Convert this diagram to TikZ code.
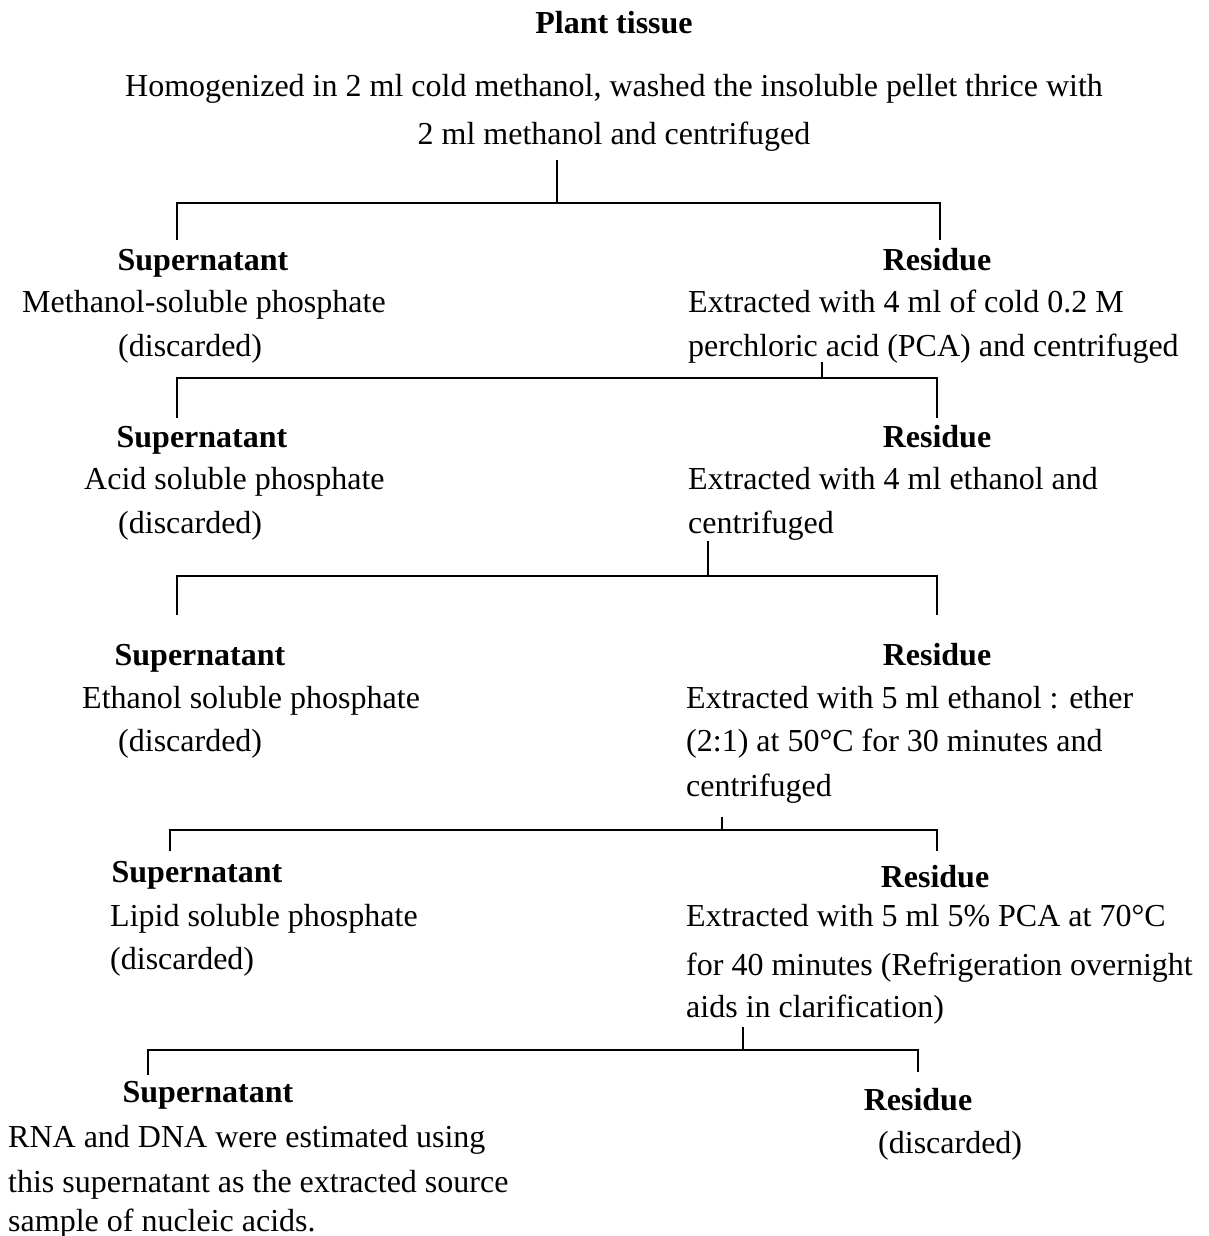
\documentclass[tikz,border=0pt]{standalone}
\usepackage{fontspec}
\setmainfont{Liberation Serif}
\begin{document}
\begin{tikzpicture}[x=1pt,y=-1pt,
	txt/.style={anchor=base west,inner sep=0pt,font=\fontsize{32}{44}\selectfont},
	mid/.style={anchor=base,inner sep=0pt,font=\fontsize{32}{44}\selectfont},
	head/.style={anchor=base,inner sep=0pt,font=\fontsize{32}{44}\selectfont\bfseries},
	tree/.style={line width=1.5pt}]
	\useasboundingbox (0,0) rectangle (1208,1236);
	% start
	\node[head] (tissue) at (614,34) {Plant tissue};
	\node[mid] (hom1) at (614,97) {Homogenized in 2 ml cold methanol, washed the insoluble pellet thrice with};
	\node[mid] (hom2) at (614,145) {2 ml methanol and centrifuged};
	% step 1
	\coordinate (t1) at (557,160);
	\coordinate (j1) at (557,203);
	\coordinate (l1) at (177,240);
	\coordinate (r1) at (940,240);
	\draw[tree] (t1) -- (j1);
	\draw[tree] (l1) |- (j1) -| (r1);
	\node[head] (sup1) at (203,270) {Supernatant};
	\node[head] (res1) at (937,270) {Residue};
	\node[txt] (msp) at (22,312) {Methanol-soluble phosphate};
	\node[txt] (dis1) at (118,356) {(discarded)};
	\node[txt] (ex1a) at (688,312) {Extracted with 4 ml of cold 0.2 M};
	\node[txt] (ex1b) at (688,356) {perchloric acid (PCA) and centrifuged};
	% step 2
	\coordinate (t2) at (822,362);
	\coordinate (j2) at (822,378);
	\coordinate (l2) at (177,418);
	\coordinate (r2) at (937,418);
	\draw[tree] (t2) -- (j2);
	\draw[tree] (l2) |- (j2) -| (r2);
	\node[head] (sup2) at (202,447) {Supernatant};
	\node[head] (res2) at (937,447) {Residue};
	\node[txt] (asp) at (84,489) {Acid soluble phosphate};
	\node[txt] (dis2) at (118,533) {(discarded)};
	\node[txt] (ex2a) at (688,489) {Extracted with 4 ml ethanol and};
	\node[txt] (ex2b) at (688,533) {centrifuged};
	% step 3
	\coordinate (t3) at (708,541);
	\coordinate (j3) at (708,576);
	\coordinate (l3) at (177,615);
	\coordinate (r3) at (937,615);
	\draw[tree] (t3) -- (j3);
	\draw[tree] (l3) |- (j3) -| (r3);
	\node[head] (sup3) at (200,665) {Supernatant};
	\node[head] (res3) at (937,665) {Residue};
	\node[txt] (esp) at (82,708) {Ethanol soluble phosphate};
	\node[txt] (dis3) at (118,751) {(discarded)};
	\node[txt] (ex3a) at (686,708) {Extracted with 5 ml ethanol : ether};
	\node[txt] (ex3b) at (686,751) {(2:1) at 50°C for 30 minutes and};
	\node[txt] (ex3c) at (686,796) {centrifuged};
	% step 4
	\coordinate (t4) at (722,817);
	\coordinate (j4) at (722,830);
	\coordinate (l4) at (170,851);
	\coordinate (r4) at (937,851);
	\draw[tree] (t4) -- (j4);
	\draw[tree] (l4) |- (j4) -| (r4);
	\node[head] (sup4) at (197,882) {Supernatant};
	\node[head] (res4) at (935,887) {Residue};
	\node[txt] (lsp) at (110,926) {Lipid soluble phosphate};
	\node[txt] (dis4) at (110,969) {(discarded)};
	\node[txt] (ex4a) at (686,926) {Extracted with 5 ml 5\% PCA at 70°C};
	\node[txt] (ex4b) at (686,975) {for 40 minutes (Refrigeration overnight};
	\node[txt] (ex4c) at (686,1017) {aids in clarification)};
	% step 5
	\coordinate (t5) at (743,1027);
	\coordinate (j5) at (743,1050);
	\coordinate (l5) at (148,1075);
	\coordinate (r5) at (918,1072);
	\draw[tree] (t5) -- (j5);
	\draw[tree] (l5) |- (j5) -| (r5);
	\node[head] (sup5) at (208,1102) {Supernatant};
	\node[head] (res5) at (918,1110) {Residue};
	\node[txt] (rna1) at (8,1147) {RNA and DNA were estimated using};
	\node[txt] (rna2) at (8,1192) {this supernatant as the extracted source};
	\node[txt] (rna3) at (8,1231) {sample of nucleic acids.};
	\node[txt] (dis5) at (878,1153) {(discarded)};
\end{tikzpicture}
\end{document}
